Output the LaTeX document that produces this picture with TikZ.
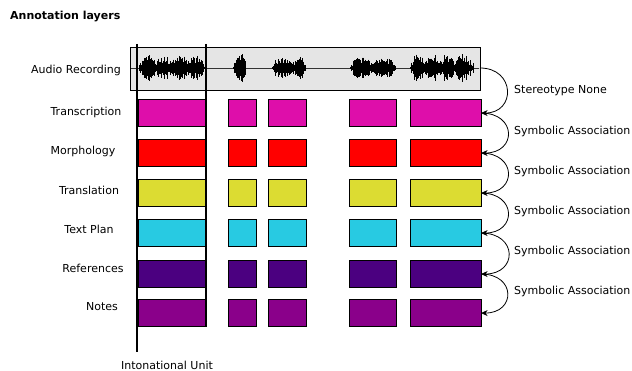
\documentclass[tikz,border=0pt]{standalone}
\usepackage{fontspec}
\setmainfont{DejaVu Sans}
\usetikzlibrary{arrows.meta}
\definecolor{cTrans}{RGB}{222,14,170}
\definecolor{cMorph}{RGB}{255,0,0}
\definecolor{cTransl}{RGB}{220,220,50}
\definecolor{cPlan}{RGB}{40,202,226}
\definecolor{cRef}{RGB}{75,0,128}
\definecolor{cNotes}{RGB}{138,0,138}
\definecolor{cAudio}{RGB}{229,229,229}
\tikzset{
  seg/.style={draw=black, line width=0.6pt, anchor=north west, inner sep=0pt, minimum height=27.5pt},
  lbl/.style={font=\fontsize{11}{13}\selectfont, inner sep=0pt},
  rlbl/.style={font=\fontsize{11}{13}\selectfont, inner sep=0pt, anchor=west},
  wave/.style={line width=0.9pt, black},
  assoc/.style={-{Stealth[length=6.5pt,width=6pt]}, line width=0.8pt, looseness=2.3},
  unitline/.style={line width=1.8pt, black}
}
\newcommand\wavseg[4]{%
  \pgfmathsetmacro\wsnext{#1+0.6}%
  \foreach \xx in {#1,\wsnext,...,#2}{%
    \pgfmathsetmacro\wsamp{#3*(0.35+0.65*rnd)*(0.5+0.5*abs(sin(#4*(\xx-#1))))*min(1,min((\xx-#1)/4,(#2-\xx)/4)+0.2)}%
    \draw[wave] (\xx,68-\wsamp) -- (\xx,68+\wsamp);
  }}
\begin{document}
\begin{tikzpicture}[x=1pt,y=-1pt]
\useasboundingbox (0,0) rectangle (632,371);
\pgfmathsetseed{11}
% title
\node[anchor=west, inner sep=0pt, font=\fontsize{11}{13}\selectfont\bfseries] (title) at (10,17) {Annotation layers};
% audio
\node[draw=black, fill=cAudio, line width=0.6pt, anchor=north west, minimum width=350pt, minimum height=43pt, inner sep=0pt] (audio) at (130,47) {};
\draw[line width=0.4pt, black!80] (131,68) -- (479,68);
\wavseg{139}{205}{14}{11}
\wavseg{233}{246}{15}{7}
\wavseg{272}{306}{11}{9}
\wavseg{350}{396}{11}{8}
\wavseg{410}{474}{14}{12}
% labels
\node[lbl] (lAudio) at (76,70) {Audio Recording};
\node[lbl] (lTr) at (86,112) {Transcription};
\node[lbl] (lMo) at (83,151) {Morphology};
\node[lbl] (lTl) at (89,190) {Translation};
\node[lbl] (lTp) at (89,229) {Text Plan};
\node[lbl] (lRe) at (93,268) {References};
\node[lbl] (lNo) at (102,307) {Notes};
% segments
\foreach \r/\y/\c in {1/99/cTrans,2/139/cMorph,3/179/cTransl,4/219/cPlan,5/260/cRef,6/299/cNotes}{
  \node[seg, fill=\c, minimum width=68.5pt] (r\r c1) at (137.5,\y) {};
  \node[seg, fill=\c, minimum width=28pt] (r\r c2) at (228,\y) {};
  \node[seg, fill=\c, minimum width=38.5pt] (r\r c3) at (267.5,\y) {};
  \node[seg, fill=\c, minimum width=46.5pt] (r\r c4) at (349,\y) {};
  \node[seg, fill=\c, minimum width=71pt] (r\r c5) at (409.5,\y) {};
}
% intonational unit lines
\coordinate (u1t) at (137,44);
\coordinate (u1b) at (137,352);
\coordinate (u2t) at (206,44);
\coordinate (u2b) at (206,327);
\draw[unitline] (u1t) -- (u1b);
\draw[unitline] (u2t) -- (u2b);
\node[lbl] (unit) at (167,365) {Intonational Unit};
% associations
\coordinate (aout) at (480,68);
\draw[assoc] (aout) to[out=0,in=0,looseness=2] (r1c5.east);
\draw[assoc] (r1c5.east) to[out=0,in=0] (r2c5.east);
\draw[assoc] (r2c5.east) to[out=0,in=0] (r3c5.east);
\draw[assoc] (r3c5.east) to[out=0,in=0] (r4c5.east);
\draw[assoc] (r4c5.east) to[out=0,in=0] (r5c5.east);
\draw[assoc] (r5c5.east) to[out=0,in=0] (r6c5.east);
\node[rlbl] (s0) at (514,91) {Stereotype None};
\node[rlbl] (s1) at (514,131) {Symbolic Association};
\node[rlbl] (s2) at (514,171) {Symbolic Association};
\node[rlbl] (s3) at (514,211) {Symbolic Association};
\node[rlbl] (s4) at (514,251) {Symbolic Association};
\node[rlbl] (s5) at (514,291) {Symbolic Association};
\end{tikzpicture}
\end{document}
